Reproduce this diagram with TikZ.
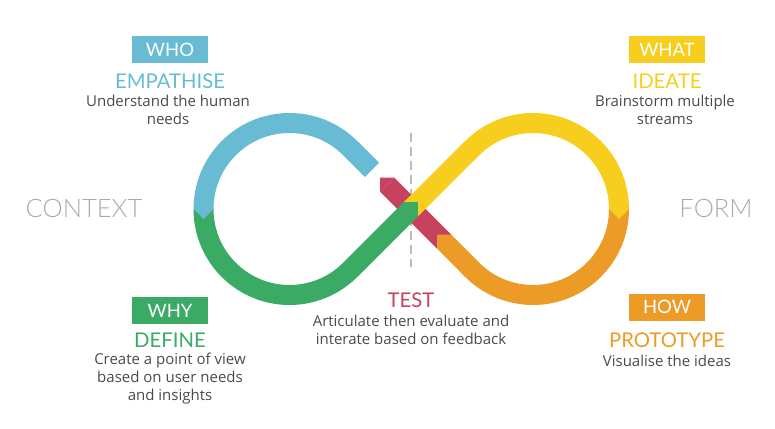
\documentclass[tikz,border=0pt]{standalone}
\usepackage{fontspec}
\setmainfont{Open Sans}
\newfontfamily\headfont{Lato}
\IfFontExistsTF{Lato Light}{\newfontfamily\lightfont{Lato Light}}{\newfontfamily\lightfont{Lato}}
\usetikzlibrary{calc}
\definecolor{cblue}{HTML}{67BCD3}
\definecolor{cgreen}{HTML}{3BAA64}
\definecolor{cyellow}{HTML}{F7CE1D}
\definecolor{corange}{HTML}{EC9B27}
\definecolor{cred}{HTML}{C7425E}
\definecolor{ctext}{HTML}{4A4A4A}
\definecolor{cside}{HTML}{ABABAB}
\definecolor{cdash}{HTML}{BDBDBD}
\begin{document}
\begin{tikzpicture}[x=1pt,y=1pt,
  band/.style={line width=20pt,line cap=butt,line join=round},
  tagbox/.style={minimum width=76pt,minimum height=27pt,inner sep=0pt,text=white,font=\headfont\fontsize{18.5}{18.5}\selectfont},
  phase/.style={inner sep=0pt,font=\headfont\fontsize{20.3}{20.3}\selectfont},
  desc/.style={inner sep=0pt,align=center,text=ctext,font=\fontsize{15}{18}\selectfont},
  side/.style={inner sep=0pt,text=cside,font=\lightfont\fontsize{25.5}{25.5}\selectfont}]
\useasboundingbox (0,0) rectangle (775,428);
\coordinate (L) at (289.5,219);
\coordinate (R) at (533,219);
% dashed axis
\coordinate (dtop) at (411,295);
\coordinate (dbot) at (411,161);
\draw[cdash,line width=1.3pt,dash pattern=on 9pt off 5pt] (dtop) -- (dbot);
% red
\draw[band,cred] (444.1,186.3) -- (387.1,243.3);
\fill[cred] (387.6,243.8) -- (394.17,250.37) -- (380.03,250.37) -- (380.03,236.23) -- (386.6,242.8) -- cycle;
% orange
\draw[band,corange] (619,219) arc[start angle=0,end angle=-135,radius=86] -- (444.1,186.3);
\fill[corange] (444.6,186.8) -- (451.17,193.37) -- (437.03,193.37) -- (437.03,179.23) -- (443.6,185.8) -- cycle;
% yellow
\draw[band,cyellow] (410.9,218.8) -- (472.19,279.81) arc[start angle=135,end angle=0,radius=86];
\fill[cyellow] (609,219.6) -- (629,219.6) -- (629,219) -- (619,209) -- (609,219) -- cycle;
% green
\draw[band,cgreen] (203.5,219) arc[start angle=180,end angle=315,radius=86] -- (410.9,218.8);
\fill[cgreen] (403.3,225.4) -- (403.83,225.87) -- (417.97,225.87) -- (417.97,211.73) -- (417.5,211.2) -- cycle;
% blue
\draw[band,cblue] (372,258.1) -- (350.31,279.81) arc[start angle=45,end angle=180,radius=86];
\fill[cblue] (193.5,219.6) -- (213.5,219.6) -- (213.5,219) -- (203.5,209) -- (193.5,219) -- cycle;
% labels
\node[tagbox,fill=cblue] (who) at (170,378.5) {WHO};
\node[phase,text=cblue] (emp) at (170,346.7) {EMPATHISE};
\node[desc] (empd) at (168,318) {Understand the human\\needs};
\node[tagbox,fill=cyellow] (what) at (667,378.5) {WHAT};
\node[phase,text=cyellow] (ide) at (667,347) {IDEATE};
\node[desc] (ided) at (665,318) {Brainstorm multiple\\streams};
\node[tagbox,fill=cgreen] (why) at (170,117.5) {WHY};
\node[phase,text=cgreen] (def) at (170,87.3) {DEFINE};
\node[desc] (defd) at (170,49.4) {Create a point of view\\based on user needs\\and insights};
\node[phase,text=cred] (test) at (411,128) {TEST};
\node[desc] (testd) at (411,98.3) {Articulate then evaluate and\\interate based on feedback};
\node[tagbox,fill=corange] (how) at (667,120.7) {HOW};
\node[phase,text=corange] (proto) at (667,88) {PROTOTYPE};
\node[desc] (protod) at (667,67.3) {Visualise the ideas};
\node[side] (ctx) at (84,219.5) {CONTEXT};
\node[side] (form) at (716,219.5) {FORM};
\end{tikzpicture}
\end{document}
